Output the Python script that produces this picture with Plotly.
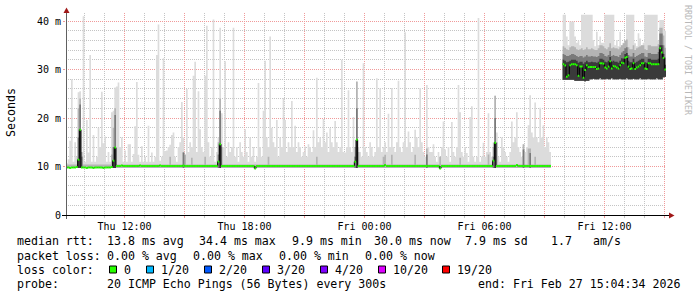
import plotly.graph_objects as go
from datetime import datetime, timedelta

# ---------------------------------------------------------------- data
START = datetime(2026, 2, 26, 9, 4, 34)
END = datetime(2026, 2, 27, 15, 4, 34)
STEP_SECONDS = 300

x_tick_times = ["2026-02-26 12:00", "2026-02-26 15:00", "2026-02-26 18:00",
                "2026-02-26 21:00", "2026-02-27 00:00", "2026-02-27 03:00",
                "2026-02-27 06:00", "2026-02-27 09:00", "2026-02-27 12:00",
                "2026-02-27 15:00"]
x_tick_labels = ["Thu 12:00", "", "Thu 18:00", "", "Fri 00:00", "",
                 "Fri 06:00", "", "Fri 12:00", ""]
y_tick_values = [0, 10, 20, 30, 40]
y_tick_labels = ["0", "10 m", "20 m", "30 m", "40 m"]
y_top = 41.65

# segment 1 : Thu 09:05 .. Fri 09:20 (5 minute steps)
seg1_first_step = 0
seg1_median = [
    9.8, 9.8, 9.7, 9.8, 9.8, 9.8, 9.9, 11.4, 17.6, 9.8, 9.8, 9.8, 9.7, 9.8, 9.8, 9.8, 9.7, 9.8, 9.8, 9.8,
    9.8, 9.8, 9.7, 9.8, 9.8, 9.8, 9.8, 9.9, 11.2, 13.9, 10.1, 10.1, 10.1, 10.2, 10.1, 10.1, 10.1, 10.1, 10.1, 10.1,
    10.1, 10.1, 10.1, 10.1, 10.2, 10.1, 10.1, 10.1, 10.1, 10.1, 10.1, 10.1, 10.1, 10.1, 10.1, 10.1, 10.2, 10.1, 10.1, 10.1,
    10.1, 10.1, 10.1, 10.1, 10.1, 10.1, 10.1, 10.1, 10.1, 10.1, 10.2, 10.1, 10.1, 10.1, 10.1, 10.1, 10.1, 10.1, 10.1, 10.1,
    10.1, 10.1, 10.1, 10.1, 10.1, 10.1, 10.1, 10.1, 10.1, 10.1, 10.1, 11.0, 14.6, 10.1, 10.1, 10.1, 10.1, 10.1, 10.1, 10.1,
    10.1, 10.1, 10.1, 10.1, 10.1, 10.1, 10.1, 10.1, 10.1, 10.1, 10.1, 10.1, 10.1, 9.6, 10.1, 10.1, 10.1, 10.1, 10.1, 10.1,
    10.1, 10.1, 10.1, 10.1, 10.1, 10.1, 10.1, 10.1, 10.1, 10.1, 10.1, 10.1, 10.1, 10.1, 10.1, 10.1, 10.1, 10.1, 10.1, 10.1,
    10.1, 10.1, 10.1, 10.1, 10.1, 10.1, 10.1, 10.1, 10.1, 10.1, 10.1, 10.1, 10.1, 10.1, 10.1, 10.1, 10.1, 10.1, 10.1, 10.1,
    10.1, 10.1, 10.1, 10.1, 10.1, 10.1, 10.1, 10.1, 10.1, 10.1, 10.1, 10.1, 10.1, 11.0, 15.5, 10.1, 10.1, 10.1, 10.1, 10.1,
    10.1, 10.1, 10.1, 10.1, 10.1, 10.1, 10.1, 10.1, 10.1, 10.1, 10.1, 10.3, 10.1, 10.1, 10.1, 10.1, 10.1, 10.1, 10.1, 10.1,
    10.1, 10.1, 10.1, 10.1, 10.1, 10.1, 10.1, 10.1, 10.1, 10.1, 10.1, 10.1, 10.1, 10.1, 10.1, 10.1, 10.1, 10.1, 10.1, 10.1,
    10.1, 10.1, 10.1, 10.1, 9.6, 10.1, 10.1, 10.1, 10.1, 10.1, 10.1, 10.1, 10.1, 10.1, 10.1, 10.1, 10.1, 10.1, 10.1, 10.1,
    10.1, 10.1, 10.1, 10.1, 10.1, 10.1, 10.1, 10.1, 10.1, 10.1, 10.1, 10.1, 10.1, 10.1, 10.1, 10.1, 11.2, 14.9, 10.1, 10.1,
    10.1, 10.1, 10.1, 10.1, 10.1, 10.1, 10.1, 10.1, 10.1, 10.1, 10.3, 10.1, 10.1, 10.1, 10.1, 10.1, 10.1, 10.1, 10.1, 10.1,
    10.1, 10.1, 10.1, 10.1, 10.1, 10.1, 10.1, 10.1, 10.1, 10.1, 10.1,
]
seg1_max = [
    10.7, 11.5, 15.3, 28, 11, 15, 12, 25.3, 25.5, 11,
    41, 11, 19.6, 12.9, 33, 11, 16.5, 11, 12, 18,
    14, 25.4, 14.8, 16.2, 11, 13, 11, 21.2, 21.5, 26.3,
    26.5, 27.3, 14, 16, 11, 13.3, 11, 14.6, 14.6, 11,
    12.6, 18.3, 27.4, 12.4, 11, 14.2, 11, 12, 11, 18.4,
    11, 12.9, 11, 12, 33, 39.3, 11.2, 12, 32.3, 13.2,
    13.3, 14, 14.5, 16.5, 17, 12, 11, 14, 15, 23.3,
    16, 12, 26, 13, 15, 14, 28.7, 31.6, 13, 25.5,
    17.7, 14, 13, 28.7, 39, 15, 12, 14, 40.3, 11,
    13, 16, 38.6, 21, 14, 31.7, 12, 15, 13, 14,
    38.6, 12, 14, 11, 15, 13, 12, 17.7, 13, 11,
    16, 12, 14, 11, 12, 27.2, 14, 12, 21.5, 31.8,
    16, 14, 36.8, 18, 15, 14, 19.6, 12, 16, 14,
    24.1, 19.6, 13, 15, 14, 23.5, 14, 18.4, 13, 15,
    14, 12, 13, 14.1, 12, 14.6, 14, 13, 17.5, 14,
    28.3, 15, 16, 14, 19.8, 15, 17, 13, 17.9, 15,
    14, 19.4, 15, 13, 14, 32, 13, 12.9, 14, 25.7,
    14, 13, 20.2, 12, 27.6, 14, 13, 12, 31.3, 14,
    13, 12, 15, 14, 12, 13, 28.2, 14, 26.1, 13,
    14, 15, 13, 20.9, 14, 26.2, 14, 13, 15, 27.7,
    14, 13, 15, 37.7, 14, 17.2, 15, 13, 14, 17.6,
    16, 14, 26.2, 15, 13, 12, 26.8, 14, 13, 13,
    14.6, 12, 11, 13, 12, 14, 19.3, 13.5, 12, 14,
    11, 19.2, 13, 12, 14, 26.8, 21.2, 13, 12, 14,
    12.8, 11, 20.2, 22.4, 12, 11, 12, 40.6, 11, 12,
    14.9, 12, 13, 21, 13, 12, 15, 24.6, 17, 12,
    11, 16, 14, 13, 12, 11, 13, 19.3, 15, 16,
    21.2, 14, 13, 12, 14.6, 13, 14, 18.5, 24.7, 17,
    16, 23.2, 16, 15, 22.1, 16, 18.5, 14, 16, 15, 13,
]
seg1_floor = 9.7
seg1_upper_base = 10.4
seg1_upper_peaks = {7: 22, 8: 24, 9: 13, 27: 12.5, 28: 18, 29: 22, 62: 12, 70: 13,
                    71: 12.5, 75: 11.8, 83: 12, 91: 15, 92: 24, 93: 14, 121: 12,
                    150: 12, 173: 14, 174: 27.5, 175: 13, 190: 12, 191: 12.4,
                    195: 12.4, 209: 12.4, 216: 13.7, 224: 12, 236: 11.8, 253: 12.5,
                    256: 14, 257: 24.6, 258: 15, 274: 14.6, 277: 13.7, 278: 13.7,
                    281: 12}
seg1_dark_peaks = {7: 16, 8: 22.8, 9: 12, 28: 14, 29: 20.6, 70: 12.9, 91: 12.5,
                   92: 21.5, 173: 12, 174: 22, 216: 12.5, 256: 12, 257: 20,
                   274: 13.5, 278: 12.8}
seg1_core_peaks = {7: 11.4, 8: 17.6, 28: 11.2, 29: 13.9, 92: 14.6, 174: 15.5, 257: 14.9}

# segment 2 : Fri 10:00 .. Fri 15:05
seg2_first_step = 298
seg2_median = [
    31.1, 30.8, 28.5, 28.8, 30.9, 31.1, 31.1, 31.1, 30.9, 28.7,
    30.6, 30.6, 28.3, 29.9, 30.9, 30.5, 30.5, 30.5, 30.5, 30.5,
    30.1, 30.2, 31.3, 31.3, 31.2, 30.4, 30.2, 30.6, 31.7, 30.2,
    30.7, 30.6, 30.4, 30.2, 30.9, 31.4, 31.3, 32.4, 32.6, 30.6,
    30.1, 30.2, 31.3, 30.1, 30.4, 30.6, 30.9, 31.3, 31.3, 30.2,
    30.1, 31.3, 31.3, 31.1, 31.1, 31.1, 31.1, 31.1, 34.4, 33.5,
    32.4, 30.0,
]
seg2_low = [
    27.9, 27.9, 27.9, 27.9, 27.9, 27.9, 27.9, 27.7, 27.7, 27.7,
    27.7, 27.7, 27.7, 27.6, 27.7, 27.7, 28.0, 28.0, 28.1, 28.0,
    28.0, 28.0, 28.2, 28.0, 28.0, 28.0, 28.1, 28.0, 28.0, 28.2,
    28.0, 28.0, 28.0, 28.0, 28.1, 28.0, 28.0, 28.0, 28.2, 28.0,
    28.0, 28.0, 28.1, 28.0, 28.0, 28.0, 28.2, 28.0, 28.0, 28.0,
    28.0, 28.1, 28.0, 28.0, 28.0, 28.0, 28.2, 28.0, 28.0, 28.0,
    28.4, 28.5,
]
seg2_core = [
    32.0, 31.8, 31.5, 31.6, 31.8, 32.0, 32.0, 32.0, 31.8, 31.4,
    31.6, 31.6, 31.2, 31.5, 31.8, 31.5, 31.5, 31.6, 31.5, 31.5,
    31.4, 31.6, 32.2, 32.2, 32.0, 31.6, 31.5, 31.8, 32.6, 31.6,
    31.8, 31.6, 31.6, 31.4, 31.8, 32.3, 32.2, 33.2, 33.4, 31.8,
    31.5, 31.5, 32.2, 31.4, 31.6, 31.8, 32.0, 32.2, 32.2, 31.5,
    31.4, 32.2, 32.2, 32.0, 32.0, 32.0, 32.0, 32.2, 35.0, 35.0,
    33.2, 31.0,
]
seg2_dark = [
    33.2, 33.0, 32.8, 32.8, 33.0, 33.2, 33.2, 33.0, 32.8, 32.6,
    32.8, 32.8, 32.5, 32.7, 33.0, 32.7, 32.7, 32.8, 32.7, 32.7,
    32.6, 32.8, 33.4, 33.4, 33.2, 32.8, 32.7, 33.0, 33.8, 32.8,
    33.0, 32.8, 32.8, 32.6, 33.0, 33.5, 33.8, 34.4, 34.6, 33.0,
    32.7, 32.7, 33.4, 32.6, 32.8, 33.0, 33.2, 33.4, 33.4, 32.7,
    32.6, 33.4, 33.4, 33.2, 33.2, 33.2, 33.2, 33.6, 37.4, 37.4,
    35.0, 32.5,
]
seg2_upper = [
    34.8, 34.5, 34.2, 34.0, 34.6, 34.8, 34.8, 34.6, 34.2, 34.0,
    34.2, 34.4, 34.0, 34.2, 34.6, 34.2, 34.2, 34.4, 34.2, 34.0,
    34.0, 34.4, 35.0, 35.0, 34.8, 34.4, 34.2, 34.6, 35.4, 34.4,
    34.6, 34.4, 34.4, 34.2, 34.6, 35.0, 35.4, 36.0, 36.2, 34.6,
    34.2, 34.2, 35.0, 34.0, 34.4, 34.6, 34.8, 35.0, 35.0, 34.2,
    34.0, 35.0, 35.0, 34.8, 34.8, 34.8, 34.8, 35.2, 38.6, 38.6,
    37.0, 34.5,
]
seg2_max = [
    41.3, 41.3, 36.8, 35.0, 39.9, 39.9, 39.9, 36.8, 35.5, 36.0,
    35.0, 41.3, 41.3, 41.3, 41.3, 41.3, 41.3, 41.3, 36.1, 34.8,
    37.8, 35.0, 36.8, 35.5, 35.5, 41.3, 41.3, 41.3, 41.3, 41.3,
    41.3, 35.0, 36.1, 34.8, 37.8, 35.0, 35.5, 35.5, 41.3, 41.3,
    41.3, 41.3, 41.3, 35.4, 34.8, 37.5, 36.4, 35.0, 35.5, 41.3,
    41.3, 41.3, 41.3, 41.3, 41.3, 41.3, 41.3, 36.0, 40.2, 40.2,
    40.2, 38.0,
]

# legend texts
rtt_label = "median rtt:"
rtt_stats = ["13.8 ms avg", "34.4 ms max", "9.9 ms min", "30.0 ms now", "7.9 ms sd", "1.7", "am/s"]
loss_label = "packet loss:"
loss_stats = ["0.00 % avg", "0.00 % max", "0.00 % min", "0.00 % now"]
loss_color_label = "loss color:"
loss_levels = ["0", "1/20", "2/20", "3/20", "4/20", "10/20", "19/20"]
loss_colors = ["#26ff00", "#00b8ff", "#0059ff", "#5e00ff", "#7e00ff", "#dd00ff", "#ff0000"]
probe_label = "probe:"
probe_text = "20 ICMP Echo Pings (56 Bytes) every 300s"
end_text = "end: Fri Feb 27 15:04:34 2026"
y_title = "Seconds"
watermark = "RRDTOOL / TOBI OETIKER"

# ---------------------------------------------------------------- styles / layout helpers
W, H = 697, 297
PL, PR, PT, PB = 66, 666, 13, 215
MONO = "DejaVu Sans Mono"
C_LIGHT, C_UPPER, C_DARK, C_CORE = "#dcdcdc", "#b4b4b4", "#7a7a7a", "#3a3a3a"
GREEN = loss_colors[0]


def fx(px):
    return (px - PL) / (PR - PL)


def fy(py):
    return (PB - py) / (PB - PT)


def t(k):
    return START + timedelta(seconds=STEP_SECONDS * k)


fig = go.Figure()


def add_band(first, lo, hi, color):
    n = len(hi)
    xs = [t(first + i) for i in range(n + 1)]
    lo_e = list(lo) + [lo[-1]]
    hi_e = list(hi) + [hi[-1]]
    fig.add_trace(go.Scatter(x=xs, y=lo_e, mode="lines", line=dict(width=0, shape="hv"),
                             hoverinfo="skip", showlegend=False))
    fig.add_trace(go.Scatter(x=xs, y=hi_e, mode="lines", line=dict(width=0, shape="hv"),
                             fill="tonexty", fillcolor=color, hoverinfo="skip", showlegend=False))


def add_median(first, med):
    n = len(med)
    xs = [t(first + i) for i in range(n + 1)]
    fig.add_trace(go.Scatter(x=xs, y=list(med) + [med[-1]], mode="lines",
                             line=dict(width=1, color="#000000", shape="hv"),
                             hoverinfo="skip", showlegend=False))
    gx, gy = [], []
    for i, m in enumerate(med):
        gx += [t(first + i), t(first + i + 1), None]
        gy += [m, m, None]
    fig.add_trace(go.Scatter(x=gx, y=gy, mode="lines", line=dict(width=2, color=GREEN),
                             hoverinfo="skip", showlegend=False))


# segment 1 smoke
n1 = len(seg1_max)
s1_lo = [seg1_floor] * n1
s1_upper = [seg1_upper_peaks.get(k, seg1_upper_base) for k in range(n1)]
s1_dark = [seg1_dark_peaks.get(k, seg1_floor) for k in range(n1)]
s1_core = [seg1_core_peaks.get(k, seg1_floor) for k in range(n1)]
add_band(seg1_first_step, s1_lo, seg1_max, C_LIGHT)
add_band(seg1_first_step, s1_lo, s1_upper, C_UPPER)
add_band(seg1_first_step, s1_lo, s1_dark, C_DARK)
add_band(seg1_first_step, s1_lo, s1_core, C_CORE)

# segment 2 smoke
add_band(seg2_first_step, seg2_low, seg2_max, C_LIGHT)
add_band(seg2_first_step, seg2_low, seg2_upper, C_UPPER)
add_band(seg2_first_step, seg2_low, seg2_dark, C_DARK)
add_band(seg2_first_step, seg2_low, seg2_core, C_CORE)

add_median(seg1_first_step, seg1_median)
add_median(seg2_first_step, seg2_median)

GRID_DASH = "1px,1px"
MAJOR_GRID = "#f09a9a"
MINOR_GRID = "#c4c4c4"

fig.update_xaxes(
    type="date", range=[START, END], showline=False, zeroline=False,
    tickmode="array", tickvals=x_tick_times, ticktext=x_tick_labels,
    showgrid=True, gridcolor=MAJOR_GRID, griddash=GRID_DASH, gridwidth=1,
    ticks="outside", ticklen=2, tickcolor=MAJOR_GRID,
    tickfont=dict(family=MONO, size=10, color="#000000"),
    minor=dict(dtick=3600000, tick0="2026-02-26 00:00", showgrid=True,
               gridcolor=MINOR_GRID, griddash=GRID_DASH, gridwidth=1,
               ticks="outside", ticklen=2, tickcolor=MINOR_GRID),
)
fig.update_yaxes(
    range=[0, y_top], showline=False, zeroline=False,
    tickmode="array", tickvals=y_tick_values, ticktext=y_tick_labels,
    showgrid=True, gridcolor=MAJOR_GRID, griddash=GRID_DASH, gridwidth=1,
    ticks="outside", ticklen=2, tickcolor=MAJOR_GRID,
    tickfont=dict(family=MONO, size=10, color="#000000"),
    minor=dict(dtick=2, tick0=0, showgrid=True, gridcolor=MINOR_GRID,
               griddash=GRID_DASH, gridwidth=1),
)

shapes = [
    dict(type="line", xref="paper", yref="paper", x0=fx(66.5), x1=fx(66.5), y0=fy(219), y1=fy(11),
         line=dict(color="#606060", width=1), layer="above"),
    dict(type="line", xref="paper", yref="paper", x0=fx(62), x1=fx(670), y0=fy(215.5), y1=fy(215.5),
         line=dict(color="#000000", width=1), layer="above"),
    dict(type="path", xref="paper", yref="paper",
         path=f"M {fx(63.5)},{fy(13)} L {fx(69.5)},{fy(13)} L {fx(66.5)},{fy(7.5)} Z",
         fillcolor="#a01818", line=dict(width=0), layer="above"),
    dict(type="path", xref="paper", yref="paper",
         path=f"M {fx(669)},{fy(212.5)} L {fx(669)},{fy(218.5)} L {fx(674.5)},{fy(215.5)} Z",
         fillcolor="#a01818", line=dict(width=0), layer="above"),
]

annotations = []


def text_at(px, py, text, size=11.6, color="#000000", family=MONO, anchor="left", angle=0):
    annotations.append(dict(xref="paper", yref="paper", x=fx(px), y=fy(py), text=text,
                            showarrow=False, xanchor=anchor, yanchor="middle", textangle=angle,
                            borderpad=0, borderwidth=0,
                            font=dict(family=family, size=size, color=color)))


ROW_Y = [241.5, 255.5, 269.5, 283.5]
LEFT_X = 16.5
VALUE_X = 107

# row 1 : median rtt
text_at(LEFT_X, ROW_Y[0], rtt_label)
for px, txt in zip([107, 199, 292, 374, 465, 551, 593], rtt_stats):
    text_at(px, ROW_Y[0], txt)
# row 2 : packet loss
text_at(LEFT_X, ROW_Y[1], loss_label)
for px, txt in zip([107, 193, 279, 365], loss_stats):
    text_at(px, ROW_Y[1], txt)
# row 3 : loss colours
text_at(LEFT_X, ROW_Y[2], loss_color_label)
box_x = [109, 146, 204, 262, 320, 378, 442]
for bx, lvl, col in zip(box_x, loss_levels, loss_colors):
    shapes.append(dict(type="rect", xref="paper", yref="paper",
                       x0=fx(bx + 0.5), x1=fx(bx + 7.5), y0=fy(266), y1=fy(273),
                       fillcolor=col, line=dict(color="#000000", width=1), layer="above"))
    text_at(bx + 15, ROW_Y[2], lvl)
# row 4 : probe
text_at(LEFT_X, ROW_Y[3], probe_label)
text_at(VALUE_X, ROW_Y[3], probe_text)
text_at(478, ROW_Y[3], end_text)

# axis title and watermark
text_at(11, 113, y_title, size=11.6, anchor="center", angle=-90)
text_at(688, 60, watermark, size=8.3, color="#b8b8b8", anchor="center", angle=90)

fig.update_layout(
    width=W, height=H,
    margin=dict(l=PL, r=W - PR, t=PT, b=H - PB),
    paper_bgcolor="#ffffff", plot_bgcolor="#ffffff",
    showlegend=False, shapes=shapes, annotations=annotations,
)

fig.write_html("out.html")
